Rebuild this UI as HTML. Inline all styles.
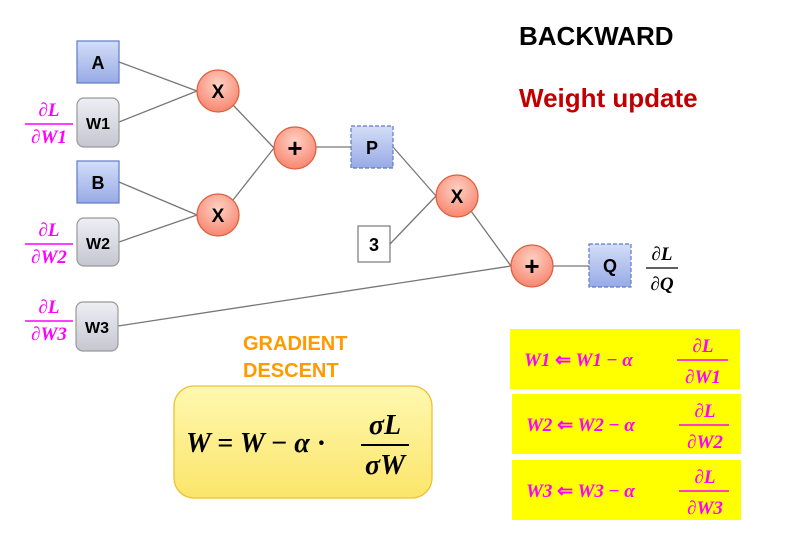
<!DOCTYPE html>
<html><head><meta charset="utf-8"><style>html,body{margin:0;padding:0;background:#fff}svg{display:block}</style></head>
<body>
<svg width="789" height="540" viewBox="0 0 789 540" xmlns="http://www.w3.org/2000/svg">
<defs>
<linearGradient id="bl" x1="0" y1="0" x2="0" y2="1"><stop offset="0" stop-color="#d4def7"/><stop offset="1" stop-color="#97aae6"/></linearGradient>
<linearGradient id="gr" x1="0" y1="0" x2="0" y2="1"><stop offset="0" stop-color="#eeeef4"/><stop offset="1" stop-color="#c6c6d2"/></linearGradient>
<radialGradient id="rd" cx="0.5" cy="0.35" r="0.7"><stop offset="0" stop-color="#ffd2c4"/><stop offset="1" stop-color="#f6806a"/></radialGradient>
<linearGradient id="yl" x1="0" y1="0" x2="0" y2="1"><stop offset="0" stop-color="#fff8b0"/><stop offset="1" stop-color="#fbe56a"/></linearGradient>
</defs>
<g stroke="#777" stroke-width="1.3" fill="none">
<line x1="119" y1="62" x2="197" y2="91"/>
<line x1="119" y1="122" x2="197" y2="91"/>
<line x1="119" y1="182" x2="197" y2="215"/>
<line x1="119" y1="242" x2="197" y2="215"/>
<line x1="233" y1="105" x2="274" y2="148"/>
<line x1="233" y1="200" x2="274" y2="148"/>
<line x1="316" y1="147" x2="351" y2="147"/>
<line x1="393" y1="147" x2="436" y2="196"/>
<line x1="390" y1="244" x2="436" y2="196"/>
<line x1="471" y1="211" x2="511" y2="266"/>
<line x1="118" y1="326" x2="511" y2="266"/>
<line x1="553" y1="266" x2="589" y2="266"/>
</g>
<g font-family="Liberation Sans, sans-serif" font-weight="bold" font-size="18" text-anchor="middle" fill="#000">
<rect x="77" y="41" width="42" height="42" fill="url(#bl)" stroke="#5f7ac8" stroke-width="1.2"/><text x="98" y="69">A</text>
<rect x="77" y="161" width="42" height="42" fill="url(#bl)" stroke="#5f7ac8" stroke-width="1.2"/><text x="98" y="189">B</text>
<rect x="77" y="98" width="42" height="49" rx="7" fill="url(#gr)" stroke="#999" stroke-width="1.2"/><text x="98" y="129" font-size="16">W1</text>
<rect x="77" y="218" width="42" height="48" rx="7" fill="url(#gr)" stroke="#999" stroke-width="1.2"/><text x="98" y="249" font-size="16">W2</text>
<rect x="76" y="302" width="42" height="49" rx="7" fill="url(#gr)" stroke="#999" stroke-width="1.2"/><text x="97" y="333" font-size="16">W3</text>
<rect x="351" y="126" width="42" height="42" fill="url(#bl)" stroke="#5f7ac8" stroke-width="1.2" stroke-dasharray="4,2"/><text x="372" y="154">P</text>
<rect x="589" y="244" width="42" height="43" fill="url(#bl)" stroke="#5f7ac8" stroke-width="1.2" stroke-dasharray="4,2"/><text x="610" y="272">Q</text>
<rect x="358" y="226" width="32" height="36" fill="#fff" stroke="#777" stroke-width="1.2"/><text x="374" y="251">3</text>
<circle cx="218" cy="91" r="21" fill="url(#rd)" stroke="#e0603f" stroke-width="1.3"/><text x="218" y="98" font-size="19">X</text>
<circle cx="218" cy="215" r="21" fill="url(#rd)" stroke="#e0603f" stroke-width="1.3"/><text x="218" y="222" font-size="19">X</text>
<circle cx="457" cy="196" r="21" fill="url(#rd)" stroke="#e0603f" stroke-width="1.3"/><text x="457" y="203" font-size="19">X</text>
<circle cx="295" cy="148" r="21" fill="url(#rd)" stroke="#e0603f" stroke-width="1.3"/><text x="295" y="157" font-size="26">+</text>
<circle cx="532" cy="266" r="21" fill="url(#rd)" stroke="#e0603f" stroke-width="1.3"/><text x="532" y="275" font-size="26">+</text>
</g>
<g font-family="Liberation Sans, sans-serif" font-weight="bold" font-size="26">
<text x="519" y="45" fill="#000">BACKWARD</text>
<text x="519" y="107" fill="#c00000">Weight update</text>
<text x="243" y="350" fill="#ff9a00" font-size="20">GRADIENT</text>
<text x="243" y="377" fill="#ff9a00" font-size="20">DESCENT</text>
</g>
<g font-family="Liberation Serif, serif" font-weight="bold" font-style="italic" font-size="19" fill="#ff00ff" text-anchor="middle">
<text x="49" y="116">∂L</text><line x1="25" y1="124" x2="73" y2="124" stroke="#ff00ff" stroke-width="1.5"/><text x="49" y="143">∂W1</text>
<text x="49" y="236">∂L</text><line x1="25" y1="244" x2="73" y2="244" stroke="#ff00ff" stroke-width="1.5"/><text x="49" y="263">∂W2</text>
<text x="49" y="313">∂L</text><line x1="25" y1="321" x2="73" y2="321" stroke="#ff00ff" stroke-width="1.5"/><text x="49" y="340">∂W3</text>
</g>
<g font-family="Liberation Serif, serif" font-weight="bold" font-style="italic" font-size="19" fill="#000" text-anchor="middle">
<text x="662" y="260">∂L</text><line x1="646" y1="268" x2="678" y2="268" stroke="#000" stroke-width="1.3"/><text x="662" y="290">∂Q</text>
</g>
<rect x="174" y="386" width="258" height="112" rx="20" fill="url(#yl)" stroke="#f0c030" stroke-width="1.3"/>
<g font-family="Liberation Serif, serif" font-weight="bold" font-style="italic" font-size="28" fill="#000">
<text x="186" y="452">W <tspan font-style="normal">=</tspan> W <tspan font-style="normal">−</tspan> α <tspan font-style="normal">·</tspan></text>
<text x="385" y="434" text-anchor="middle">σL</text>
<line x1="361" y1="445" x2="409" y2="445" stroke="#000" stroke-width="2"/>
<text x="385" y="474" text-anchor="middle">σW</text>
</g>
<g fill="#ffff00">
<rect x="510" y="329" width="230" height="60"/>
<rect x="512" y="394" width="229" height="60"/>
<rect x="512" y="460" width="229" height="60"/>
</g>
<g font-family="Liberation Serif, serif" font-weight="bold" font-style="italic" font-size="19" fill="#ff00ff">
<text x="524" y="366">W1 <tspan font-style="normal">⇐</tspan> W1 <tspan font-style="normal">−</tspan> α</text>
<text x="703" y="352" text-anchor="middle">∂L</text><line x1="677" y1="360" x2="728" y2="360" stroke="#ff00ff" stroke-width="1.5"/><text x="703" y="383" text-anchor="middle">∂W1</text>
<text x="526" y="431">W2 <tspan font-style="normal">⇐</tspan> W2 <tspan font-style="normal">−</tspan> α</text>
<text x="705" y="417" text-anchor="middle">∂L</text><line x1="679" y1="425" x2="729" y2="425" stroke="#ff00ff" stroke-width="1.5"/><text x="705" y="448" text-anchor="middle">∂W2</text>
<text x="526" y="497">W3 <tspan font-style="normal">⇐</tspan> W3 <tspan font-style="normal">−</tspan> α</text>
<text x="705" y="483" text-anchor="middle">∂L</text><line x1="679" y1="491" x2="729" y2="491" stroke="#ff00ff" stroke-width="1.5"/><text x="705" y="514" text-anchor="middle">∂W3</text>
</g>
</svg>
</body></html>
